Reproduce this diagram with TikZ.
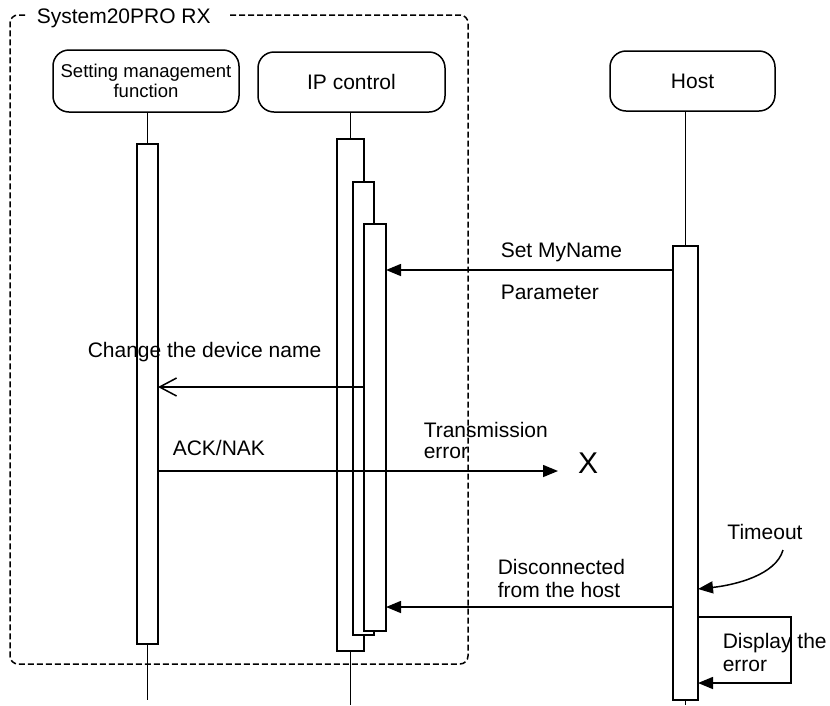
\documentclass[tikz,border=0pt]{standalone}
\usepackage{fontspec}
\setmainfont{Liberation Sans}
\usetikzlibrary{arrows.meta,calc}
\begin{document}
\begin{tikzpicture}[x=1pt,y=-1pt,
  line width=1.5pt,
  actor/.style={draw, rounded corners=16pt, inner sep=0pt, outer sep=0pt, align=center,
    font=\fontsize{21}{24}\selectfont},
  bar/.style={draw, fill=white, inner sep=0pt, outer sep=0pt},
  lbl/.style={font=\fontsize{21}{24}\selectfont, inner sep=0pt, anchor=west},
  msg/.style={-{Triangle[length=15pt,width=12pt]}},
  openmsg/.style={-{Straight Barb[length=17pt,width=18pt,line width=1.5pt]}},
  ]
\useasboundingbox (0,0) rectangle (830,705);

% system boundary with its title
\draw[dash pattern=on 6pt off 3pt, rounded corners=8pt]
  (230,15) -- (468,15) -- (468,664) -- (10,664) -- (10,15) -- (25,15);
\node[lbl, font=\fontsize{21}{24}\selectfont] (sysname) at (36,18) {System20PRO RX};

% participants
\node[actor, minimum width=186pt, minimum height=62pt,
  font=\fontsize{18.5}{20}\selectfont] (setbox) at (146,81) {Setting management\\function};
\node[actor, minimum width=187pt, minimum height=60pt] (ipbox) at (351.5,82) {IP control};
\node[actor, minimum width=165pt, minimum height=60pt] (hostbox) at (692.5,81) {Host};

% activation bars
\node[bar, minimum width=21pt, minimum height=500pt] (setbar) at (147.5,394) {};
\node[bar, minimum width=27pt, minimum height=512pt] (ipbar1) at (350.5,395) {};
\node[bar, minimum width=21pt, minimum height=453pt] (ipbar2) at (363.5,408.5) {};
\node[bar, minimum width=22pt, minimum height=407pt] (ipbar3) at (375,427.5) {};
\node[bar, minimum width=25pt, minimum height=454pt] (hostbar) at (685.5,473) {};

% lifelines
\coordinate (setend) at (147.5,700);
\coordinate (ipend) at (350.5,705);
\coordinate (hostend) at (685.5,705);
\draw (setbar.north |- setbox.south) -- (setbar.north);
\draw (setbar.south) -- (setend);
\draw (ipbar1.north |- ipbox.south) -- (ipbar1.north);
\draw (ipbar1.south) -- (ipend);
\draw (hostbar.north |- hostbox.south) -- (hostbar.north);
\draw (hostbar.south) -- (hostend);

% Set MyName Parameter
\draw[msg] (hostbar.west |- 0,270) -- (ipbar3.east |- 0,270);
\node[lbl] (setname) at (500,252) {Set MyName};
\node[lbl] (param) at (500,292) {Parameter};

% Change the device name
\draw[openmsg] (ipbar3.west |- 0,387) -- (setbar.east |- 0,387);
\node[lbl] (chg) at (87,352) {Change the device name};

% ACK/NAK lost
\coordinate (lost) at (558,471);
\draw[msg] (setbar.east |- lost) -- (lost);
\node[lbl] (ack) at (172,448) {ACK/NAK};
\node[lbl] (txerr) at (423,430) {Transmission};
\node[lbl] (txerr2) at (423,453) {error};
\node[font=\fontsize{30}{30}\selectfont, inner sep=0pt] (cross) at (588,463) {X};

% Disconnected from the host
\draw[msg] (hostbar.west |- 0,607) -- (ipbar3.east |- 0,607);
\node[lbl] (disc) at (497,567) {Disconnected};
\node[lbl] (disc2) at (497,590) {from the host};

% Timeout
\node[font=\fontsize{21}{24}\selectfont, inner sep=0pt] (tmo) at (765,532) {Timeout};
\coordinate (tmostart) at (783,550);
\draw[msg] (tmostart) .. controls (776,575) and (735,585) .. (hostbar.east |- 0,589);

% Display the error (self call)
\draw[msg] (hostbar.east |- 0,617) -- (791,617) -- (791,683) -- (hostbar.east |- 0,683);
\node[lbl] (disp) at (722,643) {Display the};
\node[lbl] (disp2) at (722,666) {error};
\end{tikzpicture}
\end{document}
